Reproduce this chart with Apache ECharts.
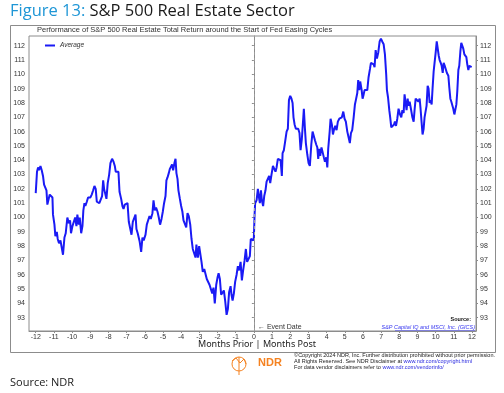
<!DOCTYPE html>
<html>
<head>
<meta charset="utf-8">
<script src="https://cdn.jsdelivr.net/npm/echarts@6/dist/echarts.min.js"></script>
<style>
html,body{margin:0;padding:0;background:#fff;}
#chart{width:504px;height:393px;}
</style>
</head>
<body>
<div id="chart"></div>
<script>
// ---- data ----
const months = [
-12.00,-11.93,-11.87,-11.82,-11.74,-11.67,-11.60,-11.54,-11.47,-11.41,-11.36,-11.28,-11.23,-11.14,-11.08,-11.05,
-10.97,-10.92,-10.84,-10.79,-10.72,-10.64,-10.57,-10.50,-10.42,-10.35,-10.26,-10.18,-10.11,-10.06,
-9.98,-9.91,-9.83,-9.76,-9.71,-9.63,-9.58,-9.50,-9.43,-9.38,-9.32,-9.27,-9.19,-9.12,-9.06,
-8.99,-8.92,-8.84,-8.77,-8.70,-8.64,-8.57,-8.50,-8.42,-8.35,-8.29,-8.24,-8.17,-8.11,-8.04,
-7.96,-7.89,-7.80,-7.72,-7.65,-7.60,-7.52,-7.45,-7.39,-7.34,-7.30,-7.23,-7.17,-7.10,-7.03,
-6.95,-6.88,-6.81,-6.73,-6.66,-6.59,-6.51,-6.46,-6.39,-6.28,-6.20,-6.13,-6.06,
-5.96,-5.89,-5.82,-5.74,-5.67,-5.58,-5.52,-5.45,-5.38,-5.30,-5.23,-5.16,-5.08,-5.01,
-4.94,-4.86,-4.81,-4.75,-4.68,-4.62,-4.57,-4.50,-4.44,-4.37,-4.31,-4.26,-4.20,-4.15,-4.07,-4.00,
-3.93,-3.87,-3.80,-3.72,-3.65,-3.58,-3.50,-3.43,-3.36,-3.28,-3.21,-3.16,-3.08,-3.01,
-2.94,-2.88,-2.81,-2.73,-2.66,-2.59,-2.51,-2.44,-2.37,-2.29,-2.22,-2.15,-2.07,-2.00,
-1.94,-1.87,-1.80,-1.72,-1.65,-1.58,-1.50,-1.43,-1.36,-1.28,-1.23,-1.17,-1.10,-1.03,
-0.95,-0.88,-0.81,-0.73,-0.66,-0.59,-0.51,-0.44,-0.37,-0.29,-0.22,-0.17,-0.09,-0.04,
0.00,0.04,0.07,0.15,0.22,0.28,0.33,0.39,0.44,0.51,0.57,0.64,0.70,0.77,0.84,0.90,0.97,
1.05,1.12,1.19,1.25,1.32,1.39,1.47,1.54,1.58,1.65,1.72,1.80,1.87,1.93,
2.00,2.07,2.13,2.18,2.24,2.31,2.37,2.44,2.51,2.57,2.64,2.72,2.75,2.81,2.86,2.94,
3.01,3.08,3.16,3.23,3.30,3.36,3.43,3.49,3.54,3.60,3.65,3.72,3.80,3.85,3.91,3.98,
4.04,4.09,4.17,4.22,4.29,4.35,4.40,4.48,4.55,4.62,4.70,4.77,4.84,4.92,4.99,
5.06,5.14,5.21,5.28,5.34,5.41,5.49,5.56,5.61,5.69,5.74,5.80,5.85,5.93,5.98,
6.04,6.09,6.17,6.24,6.31,6.39,6.44,6.51,6.59,6.64,6.70,6.77,6.84,6.92,6.99,
7.06,7.14,7.21,7.28,7.32,7.38,7.45,7.50,7.56,7.63,7.71,7.76,7.82,7.89,7.96,
8.04,8.11,8.17,8.24,8.29,8.35,8.40,8.46,8.51,8.57,8.64,8.72,8.79,8.84,8.90,8.97,
9.05,9.12,9.17,9.23,9.28,9.34,9.39,9.45,9.50,9.56,9.61,9.67,9.72,9.78,9.83,9.89,9.94,
10.00,10.06,10.11,10.17,10.22,10.28,10.33,10.39,10.44,10.50,10.55,10.62,10.70,10.75,10.81,10.86,10.92,10.97,
11.03,11.08,11.14,11.19,11.25,11.30,11.36,11.41,11.47,11.52,11.58,11.63,11.69,11.74,11.80,11.85,11.91,11.98
];
const averageValues = [
101.7,103.2,103.5,103.3,103.6,103.3,102.9,102.3,102.2,101.9,100.9,100.8,101.6,101.5,101.4,100.2,
99.5,98.7,99.0,98.5,98.2,98.4,98.4,97.4,98.6,98.9,100.0,99.6,99.8,98.9,
99.4,99.3,100.0,99.4,100.2,99.5,100.0,98.9,99.4,100.5,101.0,100.8,101.1,101.4,101.5,
101.4,101.6,101.9,102.2,102.0,101.1,101.1,101.0,100.9,101.5,102.6,102.0,102.0,101.3,102.4,
103.0,103.8,104.1,103.9,103.6,103.2,103.3,103.2,101.8,101.7,101.3,100.8,100.6,100.9,100.8,
101.0,99.7,99.8,98.8,99.7,99.8,100.2,99.2,98.9,98.3,97.6,98.6,98.4,
98.8,99.5,99.6,100.1,99.9,100.3,101.2,100.5,100.7,100.4,100.0,99.5,99.9,100.4,
101.0,101.5,102.6,102.8,103.1,103.4,103.4,103.7,103.3,103.8,104.1,103.1,102.7,101.9,101.3,100.8,
100.4,99.8,99.9,99.3,100.3,100.1,99.5,98.5,97.8,97.7,97.2,98.1,97.2,98.0,
97.9,96.9,96.2,96.4,96.3,95.7,95.7,95.3,95.2,94.7,95.1,94.0,95.3,95.8,
96.1,95.7,94.6,94.5,94.9,94.2,93.2,93.6,94.8,95.2,94.6,94.2,94.7,95.5,
96.0,96.6,96.3,96.9,95.6,96.3,97.0,97.8,96.9,97.0,97.3,98.5,98.5,98.4,
98.6,100.2,101.0,101.2,102.0,101.4,101.0,101.9,101.2,100.8,101.5,101.9,102.5,102.5,102.9,102.4,103.0,
103.6,103.6,103.2,103.5,104.1,104.2,104.0,102.9,104.5,104.7,105.3,106.0,106.2,108.2,
108.5,108.3,108.0,107.0,106.5,106.2,106.3,106.2,105.9,104.7,105.5,107.0,107.6,106.2,105.2,104.4,
103.8,103.6,105.1,106.0,106.1,105.4,105.1,104.9,104.1,104.8,104.3,104.9,105.0,104.2,103.9,104.2,
103.5,104.8,106.0,106.9,106.5,105.8,106.1,106.4,106.1,106.7,106.9,106.8,107.0,107.4,106.9,
106.7,106.0,105.6,105.2,105.9,106.1,107.0,107.9,108.2,108.7,109.6,108.9,109.5,108.9,108.3,
108.6,108.9,108.8,108.9,109.8,110.4,110.8,110.9,110.7,110.5,111.7,111.1,111.5,112.3,112.5,
112.3,112.1,111.4,110.0,108.9,108.4,107.5,107.0,106.3,106.2,106.5,106.7,106.4,106.9,107.6,
107.2,107.0,107.5,107.3,108.6,108.0,107.5,108.3,107.8,108.1,107.6,107.0,106.7,107.5,108.3,108.4,
108.1,108.3,107.6,106.6,105.8,106.2,107.0,107.1,107.8,109.2,109.0,108.0,108.2,107.9,109.0,110.2,110.8,
111.5,112.3,112.2,111.3,111.0,110.8,110.6,110.1,110.8,110.6,110.5,110.1,109.9,109.1,108.3,108.1,108.0,107.6,
107.2,107.2,107.9,108.8,110.3,110.6,111.6,112.2,112.3,111.8,111.4,111.5,111.2,110.7,110.3,110.6,110.5,110.5
];
const xTickValues = [-12,-11,-10,-9,-8,-7,-6,-5,-4,-3,-2,-1,0,1,2,3,4,5,6,7,8,9,10,11,12];
const yTickValues = [93,94,95,96,97,98,99,100,101,102,103,104,105,106,107,108,109,110,111,112];
const seriesName = 'Average';
const eventMonth = 0;

// ---- chart ----
const chart = echarts.init(document.getElementById('chart'), null, {renderer: 'canvas'});
const pts = months.map((m, i) => [m, averageValues[i]]);
const FONT = 'Liberation Sans, Arial, sans-serif';
const yAxisCommon = {
  type: 'value', min: 92.07, max: 112.68,
  axisLine: {show: true, lineStyle: {color: '#8c8c8c', width: 1}},
  axisTick: {show: true, inside: false, length: 2, lineStyle: {color: '#8c8c8c'}, customValues: yTickValues},
  axisLabel: {fontSize: 7, color: '#333', fontFamily: FONT, margin: 4, customValues: yTickValues},
  splitLine: {show: false}
};

chart.setOption({
  animation: false,
  backgroundColor: '#fff',
  grid: {left: 29, top: 36, right: 28, bottom: 62, show: true, borderColor: '#8c8c8c', borderWidth: 1, containLabel: false},
  xAxis: {
    type: 'value', min: -12.37, max: 12.22,
    axisLine: {show: true, onZero: false, lineStyle: {color: '#8c8c8c', width: 1}},
    axisTick: {show: true, length: 2, lineStyle: {color: '#8c8c8c'}, customValues: xTickValues},
    axisLabel: {fontSize: 7, color: '#333', fontFamily: FONT, margin: 3, customValues: xTickValues},
    splitLine: {show: false}
  },
  yAxis: [
    Object.assign({position: 'left'}, yAxisCommon),
    Object.assign({position: 'right'}, yAxisCommon)
  ],
  series: [{
    name: seriesName, type: 'line', data: pts, showSymbol: false, symbol: 'none',
    lineStyle: {color: '#1a1af5', width: 2}, yAxisIndex: 0,
    markLine: {
      silent: true, symbol: 'none', label: {show: false},
      lineStyle: {color: '#9a9a9a', type: [3, 3], width: 1},
      data: [{xAxis: eventMonth}]
    }
  }],
  graphic: [
    {type: 'rect', shape: {x: 10.5, y: 25.5, width: 485, height: 327}, style: {fill: 'none', stroke: '#8c8c8c', lineWidth: 1}, z: -1},
    {type: 'text', left: 10, top: 3, style: {
      text: '{a|Figure 13: }{b|S&P 500 Real Estate Sector}',
      rich: {
        a: {fontSize: 16.5, fill: '#1e96d6', fontFamily: 'Open Sans, Noto Sans, sans-serif'},
        b: {fontSize: 16.5, fill: '#1a1a1a', fontFamily: 'Open Sans, Noto Sans, sans-serif'}
      }
    }},
    {type: 'text', left: 37, top: 26, style: {text: 'Performance of S&P 500 Real Estate Total Return around the Start of Fed Easing Cycles', fontSize: 7.5, fill: '#333', fontFamily: FONT}},
    {type: 'line', shape: {x1: 45, y1: 45.5, x2: 55, y2: 45.5}, style: {stroke: '#1a1af5', lineWidth: 2}},
    {type: 'text', left: 60, top: 42, style: {text: seriesName, fontSize: 6.5, fontStyle: 'italic', fill: '#333', fontFamily: FONT}},
    {type: 'text', left: 258, top: 324, style: {text: '\u2190 Event Date', fontSize: 7, fill: '#333', fontFamily: FONT}},
    {type: 'text', right: 33, top: 316, style: {text: 'Source:', fontSize: 5.5, fontWeight: 'bold', fill: '#111', fontFamily: FONT, align: 'left'}},
    {type: 'text', right: 29, top: 324, style: {text: 'S&P Capital IQ and MSCI, Inc. (GICS)', fontSize: 5.5, fontStyle: 'italic', fill: '#3a3af0', fontFamily: FONT}},
    {type: 'line', shape: {x1: 395, y1: 330.5, x2: 475, y2: 330.5}, style: {stroke: '#3a3af0', lineWidth: 0.5}},
    {type: 'text', x: 257, y: 340, style: {text: 'Months Prior | Months Post', fontSize: 9, fill: '#222', fontFamily: 'Noto Sans, sans-serif', align: 'center'}},
    {type: 'text', right: 9, top: 352, style: {
      text: '©Copyright 2024 NDR, Inc. Further distribution prohibited without prior permission.\nAll Rights Reserved. See NDR Disclaimer at {u|www.ndr.com/copyright.html}\nFor data vendor disclaimers refer to {u|www.ndr.com/vendorinfo/}',
      align: 'right', fontSize: 5.5, lineHeight: 6.3, fill: '#222', fontFamily: FONT,
      rich: {u: {fontSize: 5.5, fill: '#2a2ae0', textDecoration: 'underline', fontFamily: FONT}}
    }},
    {type: 'circle', shape: {cx: 239, cy: 364, r: 7}, style: {fill: 'none', stroke: '#f58220', lineWidth: 1}},
    {type: 'polyline', shape: {points: [[232, 361], [236, 358], [240, 363], [244, 359], [246, 364]]}, style: {fill: 'none', stroke: '#f58220', lineWidth: 1}},
    {type: 'line', shape: {x1: 239, y1: 357, x2: 239, y2: 375}, style: {stroke: '#f58220', lineWidth: 1}},
    {type: 'text', left: 258, top: 357, style: {text: 'NDR', fontSize: 11, fontWeight: 'bold', fill: '#f58220', fontFamily: FONT}},
    {type: 'text', left: 10, top: 377, style: {text: 'Source: NDR', fontSize: 11, fill: '#1a1a1a', fontFamily: 'Open Sans, Noto Sans, sans-serif'}}
  ]
});
</script>
</body>
</html>
